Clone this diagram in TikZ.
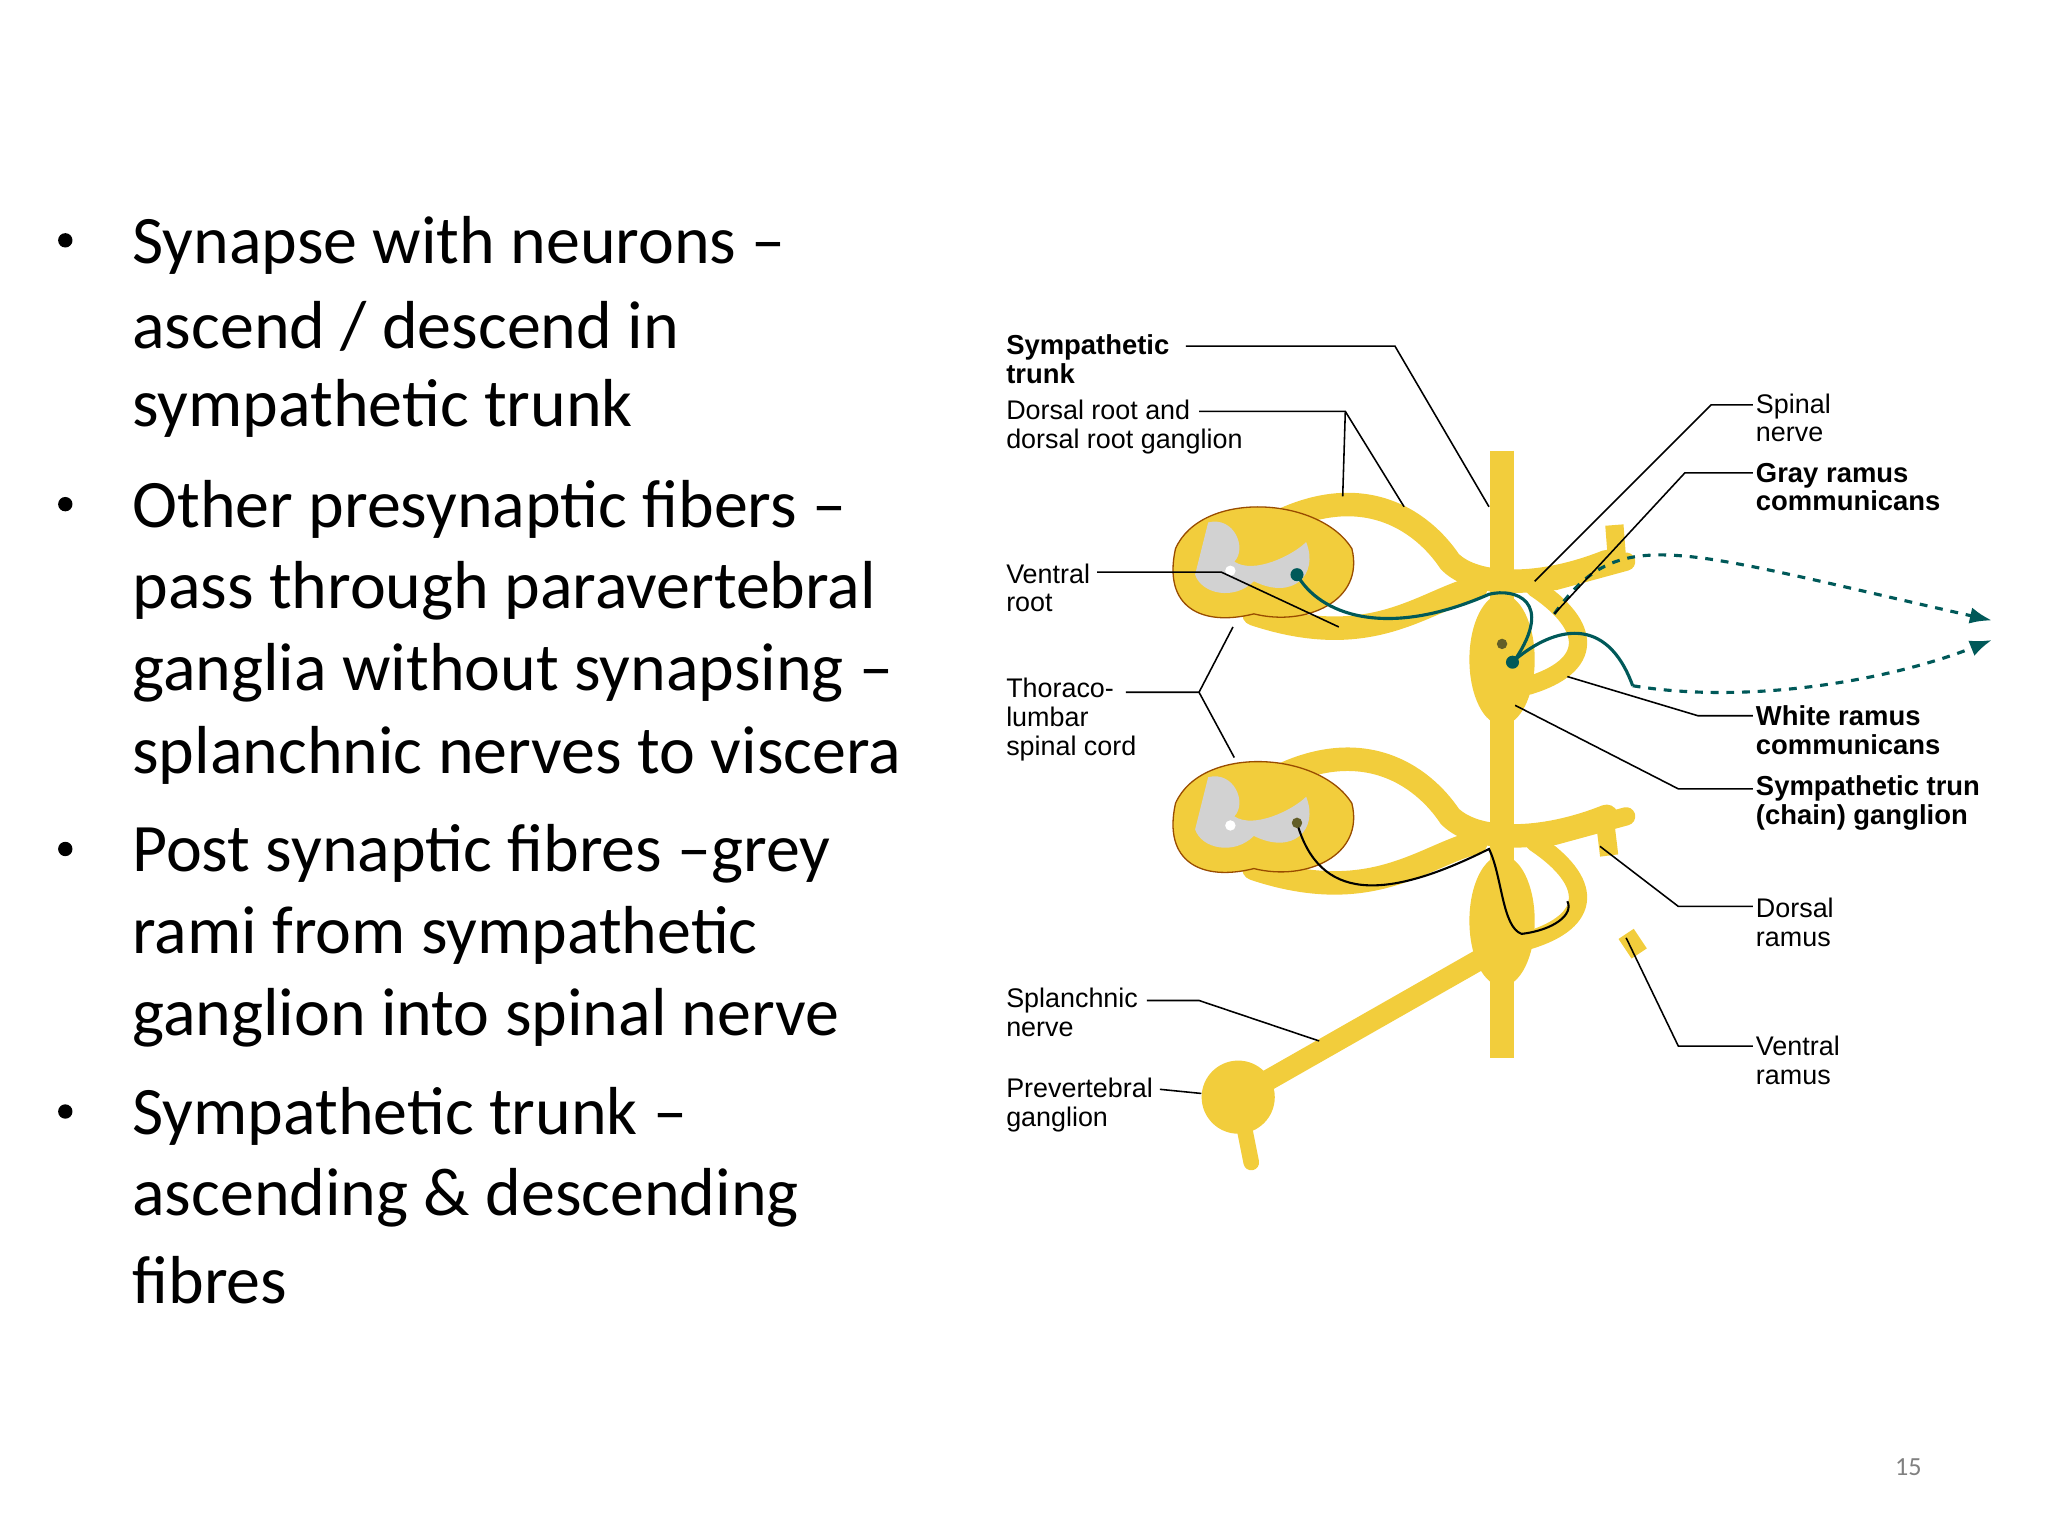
\documentclass[tikz,border=0pt]{standalone}
\usepackage{fontspec}
\setmainfont{Carlito}
\newfontfamily\lab{Liberation Sans}
\usetikzlibrary{arrows.meta,shapes.geometric}
\definecolor{ny}{HTML}{F2CD3C}
\begin{document}
\begin{tikzpicture}[x=0.5pt,y=-0.5pt,
  bl/.style={anchor=west,inner sep=0,font=\fontsize{26}{30}\selectfont},
  lb/.style={anchor=west,inner sep=1pt,align=left,font=\lab\fontsize{10.3}{11}\selectfont},
  lbb/.style={lb,font=\lab\bfseries\fontsize{10.5}{11}\selectfont},
  lead/.style={black,line width=0.6pt},
  tube/.style={ny,line width=9pt,line cap=round},
  fib/.style={draw=teal!70!black,line width=1.2pt}]
\useasboundingbox (0,0) rectangle (1568,1176);
% bullets
\foreach \y/\t in {188/{Synapse with neurons --},250/{ascend / descend in},313/{sympathetic trunk},
390/{Other presynaptic fibers --},452/{pass through paravertebral},515/{ganglia without synapsing --},578/{splanchnic nerves to viscera},
654/{Post synaptic fibres --grey},716/{rami from sympathetic},779/{ganglion into spinal nerve},
855/{Sympathetic trunk --},917/{ascending \& descending},980/{fibres}}
  \node[bl] at (101,\y) {\t};
\foreach \y in {184,386,650,851} \fill (50,\y) circle (5.5);
\node[font=\fontsize{10}{12}\selectfont,text=gray] (pg) at (1461,1123) {15};
% diagram: nerves
\foreach \c in {0,195}{
  \begin{scope}[shift={(0,\c)}]
  \draw[tube] (960,410) .. controls (1040,360) and (1090,400) .. (1110,430) .. controls (1130,450) and (1180,450) .. (1230,430);
  \draw[tube] (960,470) .. controls (1050,500) and (1090,460) .. (1130,450);
  \draw[tube,line width=7pt] (1175,450) .. controls (1220,480) and (1220,510) .. (1170,525);
  \draw[tube,line width=7pt] (1190,445) -- (1245,430);
  \fill[ny,draw=orange!60!black,line width=0.5pt] (900,420) .. controls (920,375) and (1010,380) .. (1035,420) .. controls (1045,460) and (1000,480) .. (960,470) .. controls (920,480) and (890,465) .. (900,420) -- cycle;
  \fill[gray!35] (925,400) .. controls (945,395) and (955,420) .. (945,430) .. controls (960,440) and (990,425) .. (1000,415) .. controls (1010,440) and (990,460) .. (960,445) .. controls (945,460) and (920,455) .. (915,440) -- cycle;
  \fill[white] (942,437) circle (4);
  \end{scope}}
\draw[ny,line width=7pt] (1238,428) -- (1236,402);
\draw[ny,line width=7pt] (1228,622) -- (1232,655);
\draw[ny,line width=7pt] (1245,715) -- (1255,730);
\node[circle,fill=ny,minimum size=28pt,inner sep=0] (pvg) at (948,840) {};
\draw[tube,line width=6pt] (948,840) -- (958,890);
\draw[tube,line width=8pt] (948,840) -- (1150,725);
\draw[tube,line width=9pt,line cap=butt] (1150,345) -- (1150,810);
\node[ellipse,fill=ny,minimum width=25pt,minimum height=50pt,inner sep=0] (g1) at (1150,505) {};
\node[ellipse,fill=ny,minimum width=25pt,minimum height=50pt,inner sep=0] (g2) at (1150,705) {};
% fibers
\draw[fib] (993,440) .. controls (1010,470) and (1060,490) .. (1140,455) .. controls (1160,450) and (1190,460) .. (1160,505);
\fill[teal!70!black] (993,440) circle (5) (1158,507) circle (5);
\draw[fib] (1160,505) .. controls (1190,480) and (1230,470) .. (1250,525);
\draw[fib,dashed,-{Latex}] (1190,470) .. controls (1240,400) and (1280,420) .. (1525,475);
\draw[fib,dashed,-{Latex}] (1250,525) .. controls (1340,540) and (1450,520) .. (1525,490);
\draw[black,line width=0.8pt] (993,630) .. controls (1010,690) and (1060,690) .. (1140,650) .. controls (1150,670) and (1150,710) .. (1165,715) .. controls (1190,712) and (1205,700) .. (1200,690);
\fill[olive!60!black] (993,630) circle (4) (1150,493) circle (4);
% labels
\node[lbb] (st) at (768,275) {Sympathetic\\trunk};
\node[lb] (dr) at (768,327) {Dorsal root and\\dorsal root ganglion};
\node[lb] (vr) at (768,450) {Ventral\\root};
\node[lb] (tl) at (768,551) {Thoraco-\\lumbar\\spinal cord};
\node[lb] (sn) at (768,775) {Splanchnic\\nerve};
\node[lb] (pv) at (768,846) {Prevertebral\\ganglion};
\node[lb] (sp) at (1342,320) {Spinal\\nerve};
\node[lbb] (gr) at (1342,373) {Gray ramus\\communicans};
\node[lbb] (wr) at (1342,559) {White ramus\\communicans};
\node[lbb] (sg) at (1342,615) {Sympathetic trun\\(chain) ganglion};
\node[lb] (dra) at (1342,706) {Dorsal\\ramus};
\node[lb] (vra) at (1342,812) {Ventral\\ramus};
\coordinate (a1) at (1140,388); \coordinate (a2) at (1075,388); \coordinate (a3) at (1028,380);
\coordinate (a4) at (1025,480); \coordinate (a5) at (945,580); \coordinate (a6) at (1010,797);
\coordinate (b1) at (1175,445); \coordinate (b2) at (1190,470); \coordinate (b3) at (1200,518);
\coordinate (b4) at (1160,540); \coordinate (b5) at (1225,648); \coordinate (b6) at (1245,718);
\draw[lead] (908,265) -- (1068,265) -- (a1);
\draw[lead] (918,315) -- (1030,315) -- (a2);
\draw[lead] (1030,315) -- (a3);
\draw[lead] (840,438) -- (935,438) -- (a4);
\draw[lead] (862,530) -- (918,530) -- (944,480);
\draw[lead] (918,530) -- (a5);
\draw[lead] (878,766) -- (918,766) -- (a6);
\draw[lead] (888,834) -- (pvg);
\draw[lead] (1342,310) -- (1310,310) -- (b1);
\draw[lead] (1342,362) -- (1290,362) -- (b2);
\draw[lead] (1342,548) -- (1300,548) -- (b3);
\draw[lead] (1342,604) -- (1285,604) -- (b4);
\draw[lead] (1342,694) -- (1285,694) -- (b5);
\draw[lead] (1342,801) -- (1285,801) -- (b6);
\end{tikzpicture}
\end{document}
